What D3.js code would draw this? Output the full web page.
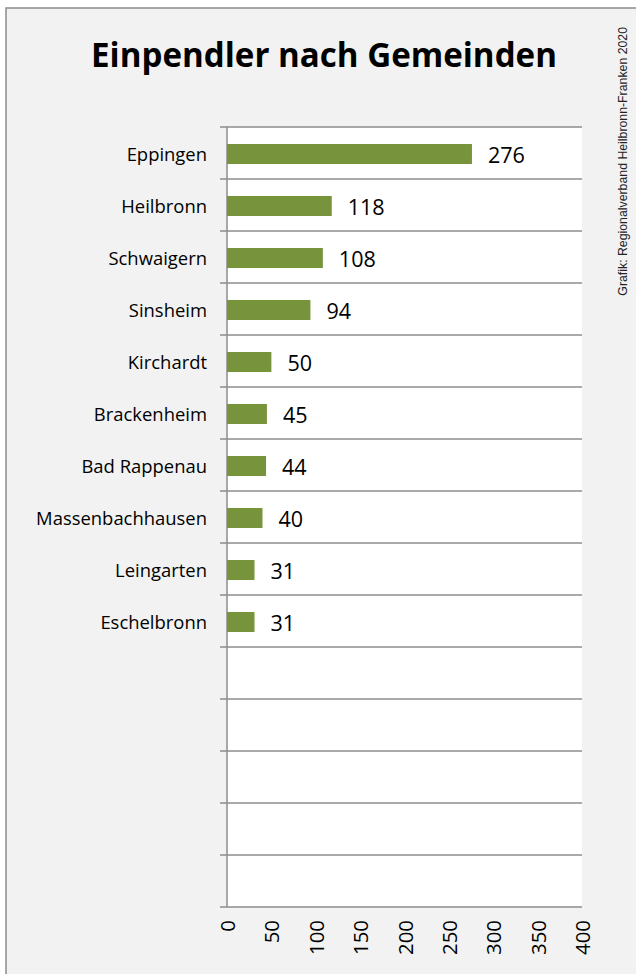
<!DOCTYPE html>
<html><head><meta charset="utf-8">
<script src="https://cdn.jsdelivr.net/npm/d3@7"></script>
<style>html,body{margin:0;padding:0;background:#fff;}</style>
</head><body>
<script>
const categories = ["Eppingen","Heilbronn","Schwaigern","Sinsheim","Kirchardt","Brackenheim","Bad Rappenau","Massenbachhausen","Leingarten","Eschelbronn","","","","",""];
const values = [276,118,108,94,50,45,44,40,31,31];
const xTicks = [0,50,100,150,200,250,300,350,400];
const title = "Einpendler nach Gemeinden";
const source = "Grafik: Regionalverband Heilbronn-Franken 2020";

(function(){
const W = 636, H = 974;
const svg = d3.select("body").append("svg").attr("width", W).attr("height", H);
svg.append("rect").attr("x", 6).attr("y", 8).attr("width", 700).attr("height", 1000)
  .attr("fill", "#f2f2f2").attr("stroke", "#8c8c8c").attr("stroke-width", 1.5);

const font = "'Open Sans', Lato, sans-serif";
// pick a font size so that a sample string has the target width
function fitSize(sample, target, weight) {
  const t = svg.append("text").attr("font-family", font).attr("font-size", 100)
    .attr("font-weight", weight || "normal").text(sample);
  const w = t.node().getComputedTextLength();
  t.remove();
  return 100 * target / w;
}
const catSize = fitSize("Massenbachhausen", 171);
const valSize = fitSize("276", 37);
const tickSize = fitSize("100", 35);
const titleSize = fitSize(title, 466, "bold");

const pL = 227, pR = 582, pT = 127, pB = 907;
const x = d3.scaleLinear().domain([0, 400]).range([pL, pR]);
const y = d3.scaleBand().domain(categories.map((c,i)=>i)).range([pT, pB]).paddingInner(0).paddingOuter(0);

svg.append("rect").attr("x", pL).attr("y", pT).attr("width", pR-pL).attr("height", pB-pT).attr("fill", "#fff");

const bounds = d3.range(categories.length + 1).map(i => pT + i * y.step());
svg.append("g").selectAll("line").data(bounds).join("line")
  .attr("x1", pL - 7).attr("x2", pR).attr("y1", d => d).attr("y2", d => d)
  .attr("stroke", "#8c8c8c").attr("stroke-width", 1.5);
svg.append("line").attr("x1", pL).attr("x2", pL).attr("y1", pT).attr("y2", pB)
  .attr("stroke", "#8c8c8c").attr("stroke-width", 1.5);

const bh = y.step() * 0.385;
svg.append("g").selectAll("rect").data(values).join("rect")
  .attr("x", x(0)).attr("y", (d,i) => y(i) + y.step()/2 - bh/2 + 1)
  .attr("width", d => x(d) - x(0)).attr("height", bh)
  .attr("fill", "#77933c");

svg.append("g").selectAll("text").data(values).join("text")
  .attr("x", d => x(d) + 16).attr("y", (d,i) => y(i) + y.step()/2 + 1.5)
  .attr("dominant-baseline", "central")
  .attr("font-family", font).attr("font-size", valSize).attr("fill", "#000")
  .text(d => d);

svg.append("g").selectAll("text").data(categories).join("text")
  .attr("x", 207).attr("y", (d,i) => y(i) + y.step()/2 + 0.5)
  .attr("text-anchor", "end").attr("dominant-baseline", "central")
  .attr("font-family", font).attr("font-size", catSize).attr("fill", "#000")
  .text(d => d);

svg.append("g").selectAll("text").data(xTicks).join("text")
  .attr("transform", d => `translate(${x(d)},920) rotate(-90)`)
  .attr("text-anchor", "end").attr("dominant-baseline", "central")
  .attr("font-family", font).attr("font-size", tickSize).attr("fill", "#000")
  .text(d => d);

svg.append("text").attr("x", 324).attr("y", 67).attr("text-anchor", "middle")
  .attr("font-family", font).attr("font-weight", "bold").attr("font-size", titleSize)
  .attr("fill", "#000").text(title);

svg.append("text").attr("transform", "translate(623,27) rotate(-90)")
  .attr("text-anchor", "end").attr("dominant-baseline", "central")
  .attr("font-family", "'Liberation Sans', Arial, sans-serif").attr("font-size", 12.3)
  .attr("fill", "#222").text(source);
})();
</script>
</body></html>
